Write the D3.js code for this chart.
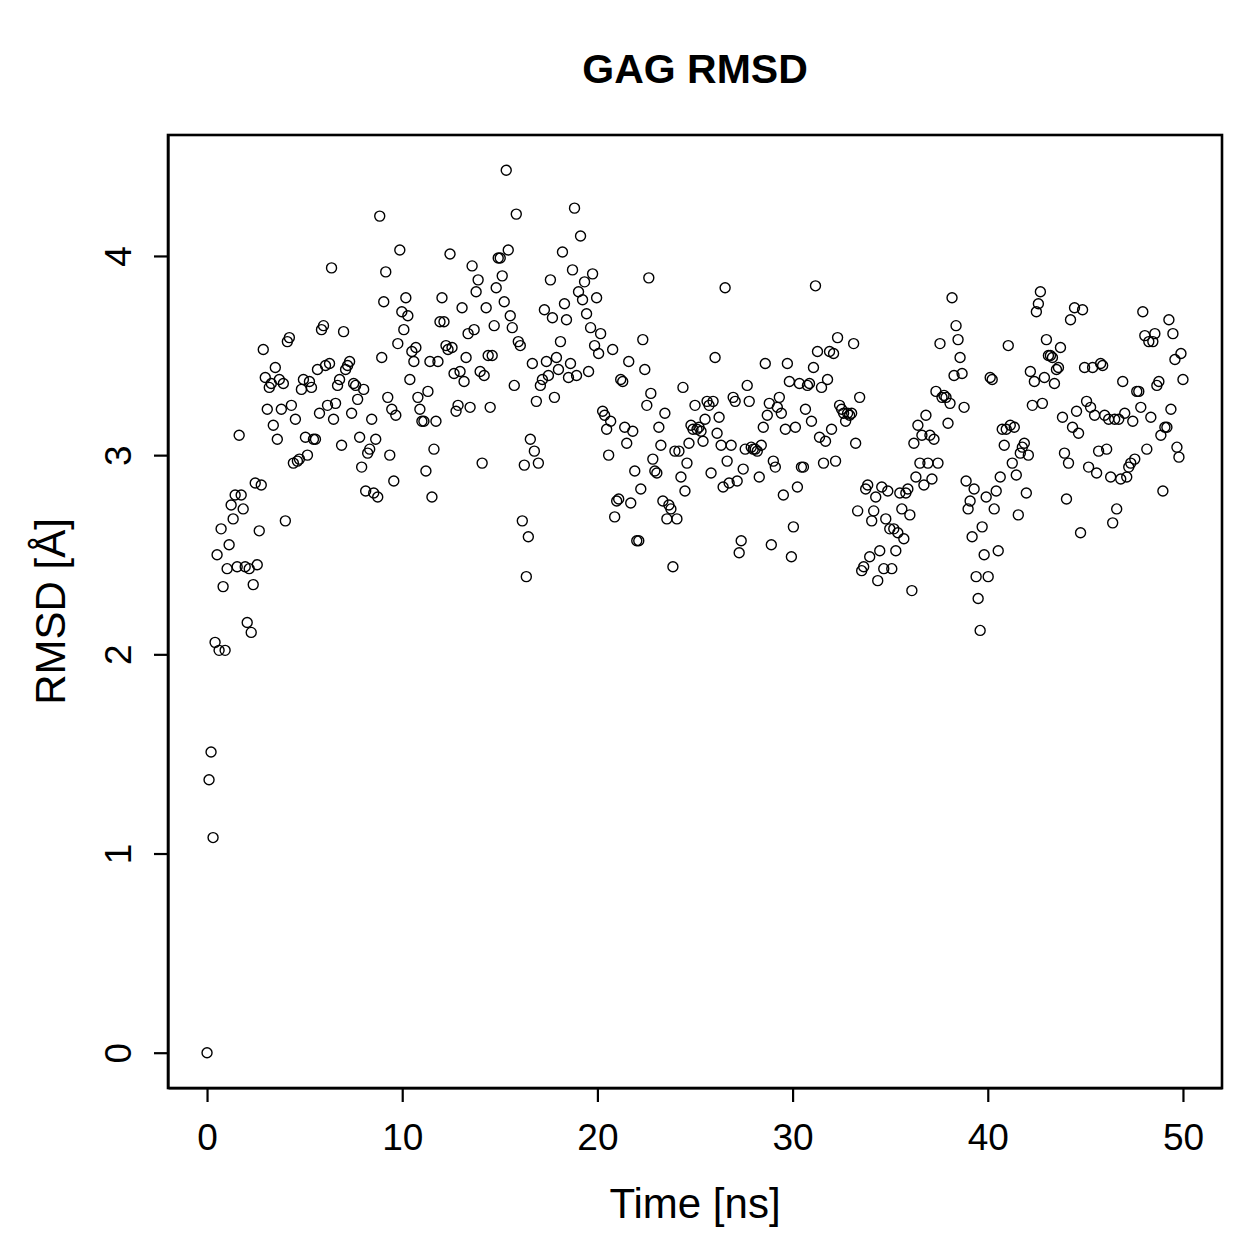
<!DOCTYPE html>
<html>
<head>
<meta charset="utf-8">
<script src="https://cdn.jsdelivr.net/npm/d3@7"></script>
<style>
  body { margin: 0; background: #fff; }
  svg { font-family: "Liberation Sans", Arial, Helvetica, sans-serif; }
  .axis path, .axis line { stroke: #000; stroke-width: 2.2; }
  .axis text { font-size: 37px; fill: #000; }
</style>
</head>
<body>
<div id="chart"></div>
<script>
// sampled every frame over the 50 ns run
const timeStart = 0
const timeEnd = 50

const rmsd = [
  0, 1.37, 1.51, 1.08, 2.06, 2.50, 2.02, 2.63, 2.34, 2.02, 2.43, 2.55, 2.75, 2.68, 2.80, 2.44, 3.10, 2.80, 2.73, 2.44,
  2.16, 2.43, 2.11, 2.35, 2.86, 2.45, 2.62, 2.85, 3.53, 3.39, 3.23, 3.34, 3.36, 3.15, 3.44, 3.08, 3.38, 3.23, 3.36, 2.67,
  3.57, 3.59, 3.25, 2.96, 3.18, 2.97, 2.98, 3.33, 3.38, 3.09, 3.00, 3.37, 3.34, 3.08, 3.08, 3.43, 3.21, 3.63, 3.65, 3.45,
  3.25, 3.46, 3.94, 3.18, 3.26, 3.35, 3.38, 3.05, 3.62, 3.43, 3.45, 3.47, 3.21, 3.36, 3.35, 3.28, 3.09, 2.94, 3.33, 2.82,
  3.01, 3.03, 3.18, 2.81, 3.08, 2.79, 4.20, 3.49, 3.77, 3.92, 3.29, 3.00, 3.23, 2.87, 3.20, 3.56, 4.03, 3.72, 3.63, 3.79,
  3.70, 3.38, 3.52, 3.47, 3.54, 3.29, 3.23, 3.17, 3.17, 2.92, 3.32, 3.47, 2.79, 3.03, 3.17, 3.47, 3.67, 3.79, 3.67, 3.55,
  3.53, 4.01, 3.54, 3.41, 3.22, 3.25, 3.42, 3.74, 3.37, 3.49, 3.61, 3.24, 3.95, 3.63, 3.82, 3.88, 3.42, 2.96, 3.40, 3.74,
  3.50, 3.24, 3.50, 3.65, 3.84, 3.99, 3.99, 3.90, 3.77, 4.43, 4.03, 3.70, 3.64, 3.35, 4.21, 3.57, 3.55, 2.67, 2.95, 2.39,
  2.59, 3.08, 3.46, 3.02, 3.27, 2.96, 3.35, 3.38, 3.73, 3.47, 3.40, 3.88, 3.69, 3.29, 3.49, 3.43, 3.57, 4.02, 3.76, 3.68,
  3.39, 3.46, 3.93, 4.24, 3.40, 3.82, 4.10, 3.78, 3.87, 3.71, 3.42, 3.64, 3.91, 3.55, 3.79, 3.51, 3.61, 3.22, 3.20, 3.13,
  3.00, 3.17, 3.53, 2.69, 2.77, 2.78, 3.38, 3.37, 3.14, 3.06, 3.47, 2.76, 3.12, 2.92, 2.57, 2.57, 2.83, 3.58, 3.43, 3.25,
  3.89, 3.31, 2.98, 2.92, 2.91, 3.14, 3.05, 2.77, 3.21, 2.68, 2.75, 2.73, 2.44, 3.02, 2.68, 3.02, 2.89, 3.34, 2.82, 2.96,
  3.06, 3.15, 3.13, 3.25, 3.13, 3.14, 3.12, 3.07, 3.18, 3.27, 3.25, 2.91, 3.27, 3.49, 3.11, 3.19, 3.05, 2.84, 3.84, 2.97,
  2.86, 3.05, 3.29, 3.27, 2.87, 2.51, 2.57, 2.93, 3.03, 3.35, 3.27, 3.04, 3.03, 3.03, 3.02, 2.89, 3.05, 3.14, 3.46, 3.20,
  3.26, 2.55, 2.97, 2.94, 3.24, 3.29, 3.21, 2.80, 3.13, 3.46, 3.37, 2.49, 2.64, 3.14, 2.84, 3.36, 2.94, 2.94, 3.23, 3.35,
  3.36, 3.17, 3.44, 3.85, 3.52, 3.09, 3.34, 2.96, 3.07, 3.38, 3.52, 3.13, 3.51, 2.97, 3.59, 3.25, 3.23, 3.21, 3.17, 3.21,
  3.20, 3.21, 3.56, 3.06, 2.72, 3.29, 2.42, 2.44, 2.83, 2.85, 2.49, 2.67, 2.72, 2.79, 2.37, 2.52, 2.84, 2.43, 2.68, 2.82,
  2.63, 2.43, 2.63, 2.52, 2.61, 2.81, 2.73, 2.58, 2.81, 2.83, 2.70, 2.32, 3.06, 2.89, 3.15, 2.96, 3.10, 2.85, 3.20, 2.96,
  3.10, 2.88, 3.08, 3.32, 2.96, 3.56, 3.29, 3.30, 3.29, 3.16, 3.26, 3.79, 3.40, 3.65, 3.58, 3.49, 3.41, 3.24, 2.87, 2.73,
  2.77, 2.59, 2.83, 2.39, 2.28, 2.12, 2.64, 2.50, 2.79, 2.39, 3.39, 3.38, 2.73, 2.82, 2.52, 2.89, 3.13, 3.05, 3.13, 3.55,
  3.15, 2.96, 3.14, 2.90, 2.70, 3.01, 3.04, 3.06, 2.81, 3.00, 3.42, 3.25, 3.37, 3.72, 3.76, 3.82, 3.26, 3.39, 3.58, 3.50,
  3.50, 3.49, 3.36, 3.43, 3.44, 3.54, 3.19, 3.01, 2.78, 2.96, 3.68, 3.14, 3.74, 3.22, 3.11, 2.61, 3.73, 3.44, 3.27, 2.94,
  3.24, 3.44, 3.20, 2.91, 3.02, 3.46, 3.45, 3.20, 3.03, 3.18, 2.89, 2.66, 3.18, 2.73, 3.18, 2.88, 3.37, 3.21, 2.89, 2.94,
  2.96, 3.17, 2.98, 3.32, 3.32, 3.24, 3.72, 3.60, 3.03, 3.57, 3.19, 3.57, 3.61, 3.35, 3.37, 3.10, 2.82, 3.14, 3.14, 3.68,
  3.23, 3.61, 3.48, 3.04, 2.99, 3.51, 3.38
]

const xTicks = [0, 10, 20, 30, 40, 50]
const yTicks = [0, 1, 2, 3, 4]

const width = 1259
const height = 1259
const margin = { top: 135, right: 37, bottom: 171, left: 168 }

const step = (timeEnd - timeStart) / (rmsd.length - 1)
const points = rmsd.map((v, i) => ({ t: timeStart + i * step, v: v }))

const svg = d3.select('#chart')
  .append('svg')
  .attr('width', width)
  .attr('height', height)

// R style: pad the data range by 4% on each side
const xMin = d3.min(points, d => d.t), xMax = d3.max(points, d => d.t)
const yMin = d3.min(points, d => d.v), yMax = d3.max(points, d => d.v)
const xPad = (xMax - xMin) * 0.04
const yPad = (yMax - yMin) * 0.04

const xPositionScale = d3.scaleLinear()
  .domain([xMin - xPad, xMax + xPad])
  .range([margin.left, width - margin.right])

const yPositionScale = d3.scaleLinear()
  .domain([yMin - yPad, yMax + yPad])
  .range([height - margin.bottom, margin.top])

const xAxis = d3.axisBottom(xPositionScale)
  .tickValues(xTicks)
  .tickFormat(d3.format('d'))
  .tickSize(14)
  .tickPadding(22)
  .tickSizeOuter(0)

svg.append('g')
  .attr('class', 'axis x-axis')
  .attr('transform', `translate(0,${height - margin.bottom})`)
  .call(xAxis)

const yAxis = d3.axisLeft(yPositionScale)
  .tickValues(yTicks)
  .tickFormat(d3.format('d'))
  .tickSize(14)
  .tickSizeOuter(0)

const yG = svg.append('g')
  .attr('class', 'axis y-axis')
  .attr('transform', `translate(${margin.left},0)`)
  .call(yAxis)

// rotate y labels like R's default las = 0
yG.selectAll('.tick text')
  .attr('x', 0)
  .attr('dy', 0)
  .attr('text-anchor', 'middle')
  .attr('transform', 'translate(-37,0) rotate(-90)')

// plot box
svg.append('rect')
  .attr('x', margin.left)
  .attr('y', margin.top)
  .attr('width', width - margin.left - margin.right)
  .attr('height', height - margin.top - margin.bottom)
  .attr('fill', 'none')
  .attr('stroke', '#000')
  .attr('stroke-width', 2.6)

svg.selectAll('.pt')
  .data(points)
  .enter()
  .append('circle')
  .attr('class', 'pt')
  .attr('cx', d => xPositionScale(d.t))
  .attr('cy', d => yPositionScale(d.v))
  .attr('r', 5)
  .attr('fill', 'none')
  .attr('stroke', '#000')
  .attr('stroke-width', 1.4)

const midX = (margin.left + width - margin.right) / 2

svg.append('text')
  .attr('x', midX)
  .attr('y', 83)
  .attr('text-anchor', 'middle')
  .style('font-size', '41px')
  .style('font-weight', 'bold')
  .text('GAG RMSD')

svg.append('text')
  .attr('x', midX)
  .attr('y', 1218)
  .attr('text-anchor', 'middle')
  .style('font-size', '42px')
  .text('Time [ns]')

svg.append('text')
  .attr('transform', `translate(65,${(margin.top + height - margin.bottom) / 2}) rotate(-90)`)
  .attr('text-anchor', 'middle')
  .style('font-size', '42px')
  .text('RMSD [Å]')
</script>
</body>
</html>
